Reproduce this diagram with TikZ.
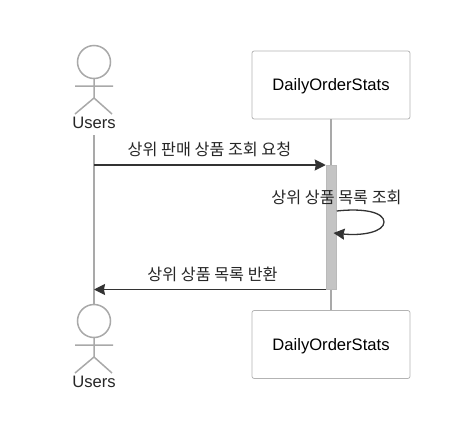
\documentclass[tikz,border=0pt]{standalone}
\usepackage{fontspec}
\setmainfont{Liberation Sans}
\newfontfamily\kr{Noto Sans CJK KR}
\usetikzlibrary{arrows.meta}
\definecolor{lifegray}{HTML}{A9A9A9}
\definecolor{inkdark}{HTML}{333333}
\definecolor{boxedge}{HTML}{B3B3B3}
\definecolor{actfill}{HTML}{C4C4C4}
\tikzset{
  lifeline/.style={draw=lifegray,line width=1.5pt},
  stick/.style={draw=lifegray,line width=1.5pt},
  party/.style={draw=boxedge,line width=0.75pt,rounded corners=2.2pt,fill=white,minimum width=158pt,minimum height=68pt,inner sep=0pt,text height=15pt,text depth=3.5pt,font=\fontsize{16.6pt}{18pt}\selectfont},
  actorname/.style={inner sep=0pt,text height=14pt,text depth=2pt,font=\fontsize{16.6pt}{18pt}\selectfont,text=black!85},
  msglabel/.style={inner sep=0pt,text height=15pt,text depth=3pt,font=\kr\fontsize{16.2pt}{18pt}\selectfont,text=black!85},
  msg/.style={draw=inkdark,line width=1.3pt,-{Stealth[length=11pt,width=11pt,inset=1pt,color=inkdark]}},
  activation/.style={fill=actfill,draw=lifegray!80,line width=0.5pt,minimum width=10.5pt,minimum height=124pt,inner sep=0pt}
}
\newcommand{\stickman}[2]{%
  \draw[stick] (#1,#2) circle (16.5pt);
  \draw[stick] (#1,#2+16.5) -- (#1,#2+36) (#1-19,#2+24) -- (#1+19,#2+24)
     (#1-19,#2+52) -- (#1,#2+36) -- (#1+18,#2+52);
}
\begin{document}
\begin{tikzpicture}[x=1pt,y=-1pt]
\useasboundingbox (0,0) rectangle (453,445);
\fill[white] (0,0) rectangle (453,445);
\node[actorname] (userTop) at (94,122) {Users};
\coordinate (userTopEnd) at (94,135);
\coordinate (userBotEnd) at (94,304.5);
\node[party] (statsTop) at (331,85) {DailyOrderStats};
\node[party] (statsBot) at (331,344.5) {DailyOrderStats};
\draw[lifeline] (userTopEnd) -- (userBotEnd);
\draw[lifeline] (statsTop.south) -- (statsBot.north);
\stickman{94}{62}
\stickman{94}{321}
\node[actorname] (userBot) at (94,381) {Users};
\node[activation] (act) at (331.25,227) {};
\coordinate (reqStart) at (94,165);
\coordinate (retEnd) at (94,289.5);
\draw[msg] (reqStart) -- (act.north west |- reqStart);
\draw[msg] (act.south west |- retEnd) -- (retEnd);
\coordinate (selfStart) at (act.east |- 0,211);
\coordinate (selfEnd) at (333.5,233);
\draw[msg] (selfStart) .. controls (363,208) and (384,212) .. (384,222) .. controls (384,232) and (362,236) .. (selfEnd);
\node[msglabel] (l1) at (209.5,149.6) {상위 판매 상품 조회 요청};
\node[msglabel] (l2) at (336.5,197.1) {상위 상품 목록 조회};
\node[msglabel] (l3) at (212.5,274.1) {상위 상품 목록 반환};
\end{tikzpicture}
\end{document}
